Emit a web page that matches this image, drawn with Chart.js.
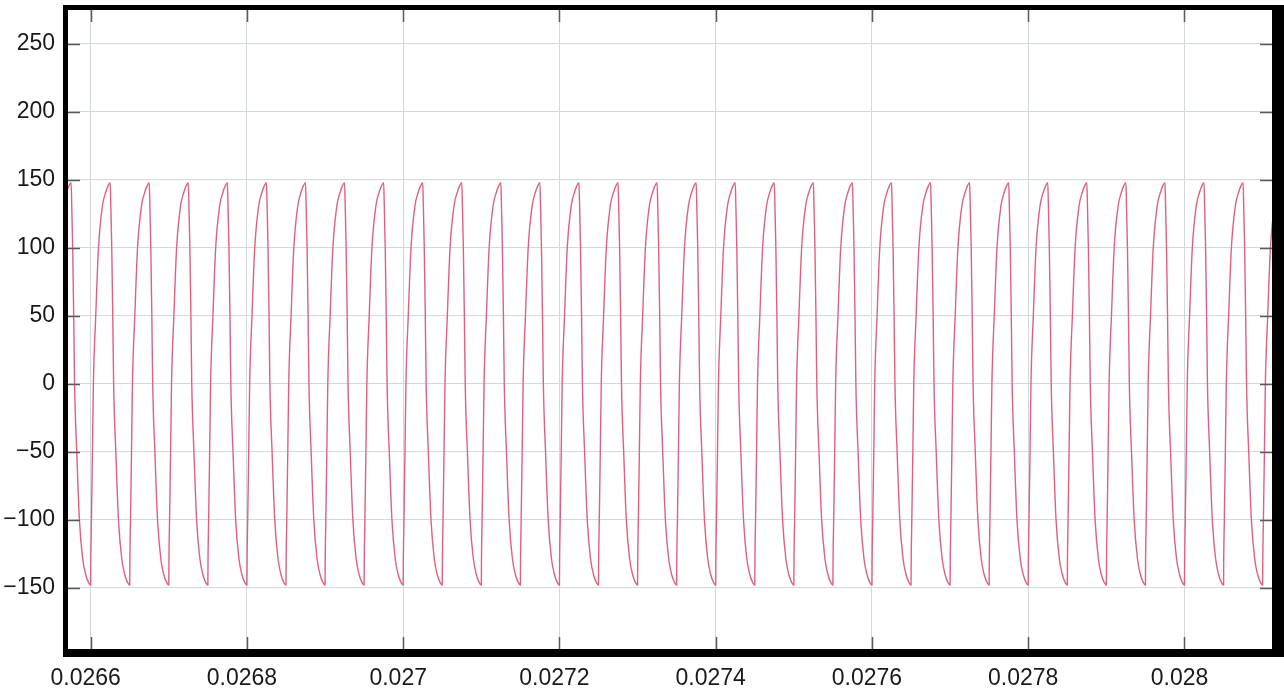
<!DOCTYPE html>
<html>
<head>
<meta charset="utf-8">
<script src="https://cdn.jsdelivr.net/npm/chart.js@4"></script>
<style>
  html, body { margin: 0; padding: 0; background: #fff; }
  #wrap { width: 1284px; height: 693px; }
</style>
</head>
<body>
<div id="wrap"><canvas id="waveChart" width="1284" height="693"></canvas></div>
<script>
// Cycle start times (troughs)
const cycleStarts = [
    0.02655, 0.0266, 0.02665, 0.0267, 0.02675, 0.0268, 0.02685, 0.0269, 0.02695,
    0.027, 0.02705, 0.0271, 0.02715, 0.0272, 0.02725, 0.0273, 0.02735, 0.0274,
    0.02745, 0.0275, 0.02755, 0.0276, 0.02765, 0.0277, 0.02775, 0.0278, 0.02785,
    0.0279, 0.02795, 0.028, 0.02805, 0.0281, 0.02815
];

// One cycle of the waveform: offset from the trough (microseconds) and value
const pulseOffsetUs = [0, 0.2, 1.0, 2.3, 3.5, 6.5, 10.0, 15.1, 19.3, 22.5,
                       25.0, 25.8, 27.0, 28.3, 29.4, 32.2, 35.6, 39.9, 43.5, 47.2];
const pulseValues = [-148, -130, -100, -50, 0, 50, 100, 131, 141, 146,
                     148, 131, 100, 50, 0, -50, -100, -129, -140, -146];

// Tick labels
const xTickValues = [0.0266, 0.0268, 0.027, 0.0272, 0.0274, 0.0276, 0.0278, 0.028];
const yTickValues = [-150, -100, -50, 0, 50, 100, 150, 200, 250];

const xMin = 0.026571, xMax = 0.028112;
const yMin = -195, yMax = 275;

// build the point list from the cycle table
const wavePoints = [];
cycleStarts.forEach(t0 => {
    pulseOffsetUs.forEach((off, i) => {
        wavePoints.push({ x: t0 + off * 1e-6, y: pulseValues[i] });
    });
});

const labelFont = { family: "'Liberation Sans', Arial, sans-serif", size: 23 };

// short dark tick marks on the inside of all four edges
const innerTicks = {
    id: 'innerTicks',
    afterDatasetsDraw(chart) {
        const { ctx, chartArea: a, scales } = chart;
        const len = 12;
        ctx.save();
        ctx.strokeStyle = '#5a5a5a';
        ctx.lineWidth = 1.5;
        ctx.beginPath();
        xTickValues.forEach(v => {
            const px = Math.round(scales.x.getPixelForValue(v)) + 0.5;
            ctx.moveTo(px, a.top); ctx.lineTo(px, a.top + len);
            ctx.moveTo(px, a.bottom); ctx.lineTo(px, a.bottom - len);
        });
        yTickValues.forEach(v => {
            const py = Math.round(scales.y.getPixelForValue(v)) + 0.5;
            ctx.moveTo(a.left, py); ctx.lineTo(a.left + len, py);
            ctx.moveTo(a.right, py); ctx.lineTo(a.right - len, py);
        });
        ctx.stroke();
        ctx.restore();
    }
};

// thick black frame round the plot
const blackFrame = {
    id: 'blackFrame',
    afterDraw(chart) {
        const { ctx, chartArea: a } = chart;
        ctx.save();
        ctx.fillStyle = '#000';
        ctx.fillRect(a.left - 5, a.top - 5, 5, a.bottom - a.top + 13);
        ctx.fillRect(a.left - 5, a.top - 5, a.right - a.left + 17, 5);
        ctx.fillRect(a.left - 5, a.bottom, a.right - a.left + 17, 8);
        ctx.fillRect(a.right, a.top - 5, 12, a.bottom - a.top + 13);
        ctx.restore();
    }
};

const ctx = document.getElementById('waveChart').getContext('2d');
new Chart(ctx, {
    type: 'line',
    data: {
        datasets: [{
            data: wavePoints,
            borderColor: 'rgb(224, 96, 130)',
            borderWidth: 1.4,
            pointRadius: 0,
            fill: false,
            cubicInterpolationMode: 'monotone'
        }]
    },
    options: {
        responsive: false,
        animation: false,
        layout: { padding: { top: 10, right: 12, left: 0, bottom: 0 } },
        plugins: { legend: { display: false }, tooltip: { enabled: false } },
        scales: {
            x: {
                type: 'linear',
                min: xMin,
                max: xMax,
                afterBuildTicks: scale => { scale.ticks = xTickValues.map(v => ({ value: v })); },
                afterFit: scale => {
                    scale.height = 44;
                    scale.paddingLeft = 0;
                    scale.paddingRight = 0;
                },
                border: { display: false },
                grid: { color: '#d3d8db', lineWidth: 1, drawTicks: false },
                ticks: {
                    font: labelFont,
                    color: '#1a1a1a',
                    padding: 16,
                    labelOffset: -5,
                    maxRotation: 0,
                    autoSkip: false,
                    callback: v => String(v)
                }
            },
            y: {
                type: 'linear',
                min: yMin,
                max: yMax,
                afterBuildTicks: scale => { scale.ticks = yTickValues.map(v => ({ value: v })); },
                afterFit: scale => {
                    scale.width = 68;
                    scale.paddingTop = 0;
                    scale.paddingBottom = 0;
                },
                border: { display: false },
                grid: { color: '#d3d8db', lineWidth: 1, drawTicks: false },
                ticks: {
                    font: labelFont,
                    color: '#1a1a1a',
                    padding: 13,
                    callback: v => String(v).replace('-', '\u2212')
                }
            }
        }
    },
    plugins: [innerTicks, blackFrame]
});
</script>
</body>
</html>
